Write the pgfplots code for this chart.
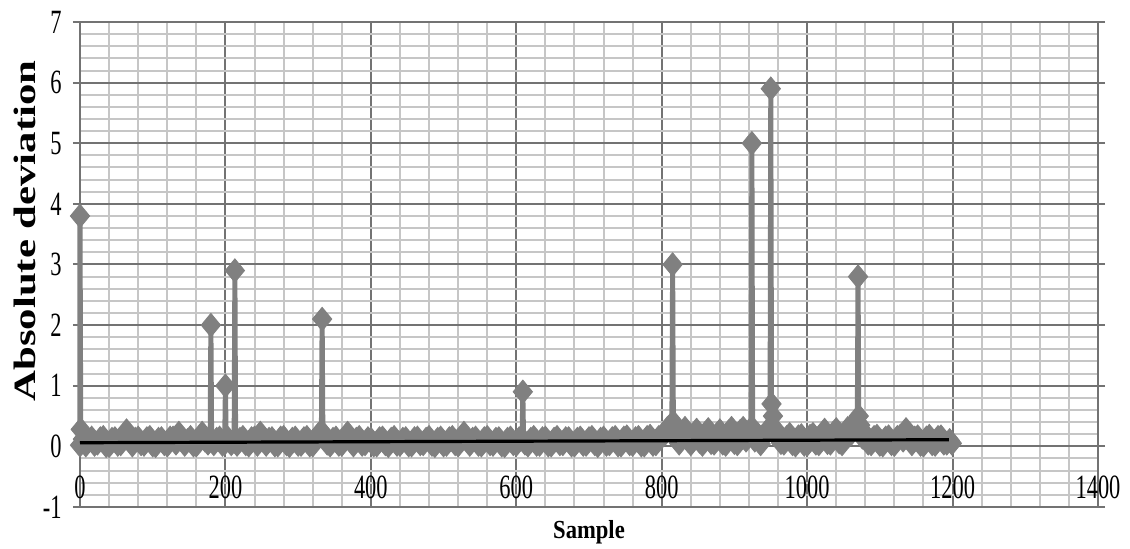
\documentclass[border=0pt]{standalone}
\usepackage{fontspec}
\setmainfont{Liberation Serif}
\newfontfamily\tickfont[FakeStretch=0.66]{Liberation Serif}
\newfontfamily\xlabfont[FakeStretch=0.87]{Liberation Serif}
\newfontfamily\ylabfont[FakeStretch=1.38]{Liberation Serif}
\usepackage{pgfplots}
\pgfplotsset{compat=1.18}
\definecolor{series}{RGB}{128,128,128}
\definecolor{majorgrid}{RGB}{115,115,115}
\definecolor{minorgrid}{RGB}{198,198,198}

\begin{document}
\begin{tikzpicture}
\begin{axis}[
  width=509pt, height=242.5pt,
  scale only axis,
  clip=false,
  clip marker paths=true,
  enlargelimits=false,
  xmin=0, xmax=1400, ymin=-1, ymax=7,
  xtick={0,200,...,1400},
  ytick={-1,0,...,7},
  minor x tick num=4,
  minor y tick num=4,
  grid=both,
  major grid style={draw=majorgrid, line width=1pt},
  minor grid style={draw=minorgrid, line width=1pt},
  axis line style={draw=majorgrid, line width=1pt},
  tick align=outside,
  major tick length=3.5pt,
  minor tick length=0pt,
  xtick style={draw=none},
  ytick style={draw=majorgrid, line width=1pt},
  /pgf/number format/assume math mode=true,
  /pgf/number format/1000 sep={},
  tick label style={font=\tickfont\fontsize{17}{17}\selectfont},
  xticklabel style={anchor=center, inner sep=0pt, yshift=13.5pt},
  yticklabel style={anchor=east, inner sep=0pt, xshift=-5.5pt},
  xlabel={Sample},
  xlabel style={font=\xlabfont\bfseries\fontsize{13}{13}\selectfont,
    at={(axis description cs:0.5,-0.052)}, anchor=center},
  ylabel={Absolute deviation},
  ylabel style={font=\ylabfont\bfseries\fontsize{15.5}{15.5}\selectfont,
    at={(axis description cs:-0.054,0.569)}, anchor=center},
]
% absolute deviation per sample (gray line with diamonds)
\addplot[color=series, line width=2.5pt, mark=diamond*,
  mark size=5.8pt, mark options={xscale=1.1, fill=series, draw=series, line width=0.5pt}]
coordinates {
(0,0.02) (0,3.8) (1,0.28) (4,0.12) (8,0.02) (12,0.1) (16,0.14) (20,0.03) (24,0.05) (28,0.13) (32,0.15) (36,0.01)
(40,0.01) (44,0.12) (48,0.13) (52,0.03) (56,0.04) (60,0.15) (64,0.26) (68,0.1) (72,0.02) (76,0.12)
(80,0.14) (84,0.04) (88,0.03) (92,0.13) (96,0.15) (100,0.02) (104,0.01) (108,0.12) (112,0.13) (116,0.04)
(120,0.02) (124,0.14) (128,0.14) (132,0.05) (136,0.22) (140,0.12) (144,0.03) (148,0.1) (152,0.15) (156,0.02)
(160,0.02) (164,0.13) (168,0.22) (172,0.1) (176,0.05) (179,0.1) (180,2.0) (181,0.12) (184,0.04) (188,0.12) (192,0.14) (196,0.03)
(199,0.05) (200,1.0) (201,0.1) (204,0.13) (208,0.04) (212,0.1) (213,2.9) (214,0.12) (216,0.03) (220,0.12) (224,0.15) (228,0.04) (232,0.02) (236,0.13)
(240,0.14) (244,0.03) (248,0.22) (252,0.1) (256,0.03) (260,0.12) (264,0.13) (268,0.02) (272,0.02) (276,0.14)
(280,0.15) (284,0.04) (288,0.01) (292,0.12) (296,0.14) (300,0.03) (304,0.03) (308,0.13) (312,0.15) (316,0.02)
(320,0.02) (324,0.12) (328,0.2) (332,0.25) (333,2.1) (334,0.22) (336,0.15) (340,0.05) (344,0.02) (348,0.12) (352,0.14) (356,0.03)
(360,0.03) (364,0.13) (368,0.22) (372,0.1) (376,0.02) (380,0.12) (384,0.15) (388,0.03) (392,0.04) (396,0.13)
(400,0.12) (404,0.02) (408,0.02) (412,0.13) (416,0.14) (420,0.04) (424,0.01) (428,0.12) (432,0.15) (436,0.03)
(440,0.03) (444,0.12) (448,0.13) (452,0.02) (456,0.02) (460,0.13) (464,0.14) (468,0.04) (472,0.04) (476,0.12)
(480,0.15) (484,0.03) (488,0.01) (492,0.12) (496,0.14) (500,0.02) (504,0.03) (508,0.13) (512,0.15) (516,0.04)
(520,0.02) (524,0.14) (528,0.22) (532,0.1) (536,0.03) (540,0.12) (544,0.14) (548,0.03) (552,0.02) (556,0.13)
(560,0.15) (564,0.04) (568,0.03) (572,0.12) (576,0.13) (580,0.02) (584,0.01) (588,0.12) (592,0.14) (596,0.04)
(600,0.03) (604,0.13) (608,0.12) (609,0.9) (610,0.1) (612,0.05) (616,0.02) (620,0.12) (624,0.15) (628,0.03) (632,0.03) (636,0.13)
(640,0.14) (644,0.02) (648,0.02) (652,0.12) (656,0.15) (660,0.04) (664,0.04) (668,0.13) (672,0.13) (676,0.02)
(680,0.02) (684,0.12) (688,0.14) (692,0.03) (696,0.03) (700,0.13) (704,0.15) (708,0.04) (712,0.01) (716,0.12)
(720,0.14) (724,0.03) (728,0.04) (732,0.13) (736,0.15) (740,0.02) (744,0.02) (748,0.14) (752,0.16) (756,0.04)
(760,0.03) (764,0.13) (768,0.15) (772,0.02) (776,0.02) (780,0.15) (784,0.17) (788,0.03) (792,0.04) (796,0.15)
(800,0.16) (804,0.2) (808,0.3) (812,0.25) (814,0.38) (815,3.0) (816,0.4) (820,0.2) (824,0.05) (828,0.22) (832,0.3) (836,0.1)
(840,0.04) (844,0.2) (848,0.27) (852,0.08) (856,0.03) (860,0.22) (864,0.28) (868,0.06) (872,0.05) (876,0.2)
(880,0.26) (884,0.05) (888,0.03) (892,0.24) (896,0.3) (900,0.06) (904,0.04) (908,0.25) (912,0.3) (916,0.1)
(920,0.2) (923,0.3) (924,5.0) (925,0.3) (928,0.1) (932,0.2) (936,0.04) (940,0.15) (944,0.25) (949,0.3) (950,5.9) (951,0.7) (953,0.5) (955,0.3)
(960,0.2) (964,0.06) (968,0.05) (972,0.15) (976,0.2) (980,0.04) (984,0.02) (988,0.16) (992,0.18) (996,0.03)
(1000,0.03) (1004,0.17) (1008,0.2) (1012,0.05) (1016,0.04) (1020,0.2) (1024,0.27) (1028,0.06) (1032,0.05) (1036,0.22)
(1040,0.28) (1044,0.07) (1048,0.04) (1052,0.22) (1056,0.3) (1060,0.2) (1064,0.38) (1069,0.4) (1070,2.8) (1071,0.5) (1073,0.35) (1076,0.15)
(1080,0.2) (1084,0.05) (1088,0.04) (1092,0.15) (1096,0.17) (1100,0.03) (1104,0.02) (1108,0.14) (1112,0.16) (1116,0.04)
(1120,0.03) (1124,0.15) (1128,0.17) (1132,0.1) (1136,0.28) (1140,0.12) (1144,0.04) (1148,0.14) (1152,0.16) (1156,0.03)
(1160,0.02) (1164,0.14) (1168,0.17) (1172,0.04) (1176,0.03) (1180,0.15) (1184,0.16) (1188,0.05) (1192,0.05) (1196,0.1) (1199,0.05)
};
% linear trend
\addplot[black, line width=1.6pt] coordinates {(0,0.06) (1195,0.11)};
\end{axis}
\pgfresetboundingbox
\path[use as bounding box]
  ([xshift=-40pt,yshift=-21pt]current axis.south west) rectangle
  ([xshift=525pt,yshift=253.5pt]current axis.south west);
\end{tikzpicture}
\end{document}
